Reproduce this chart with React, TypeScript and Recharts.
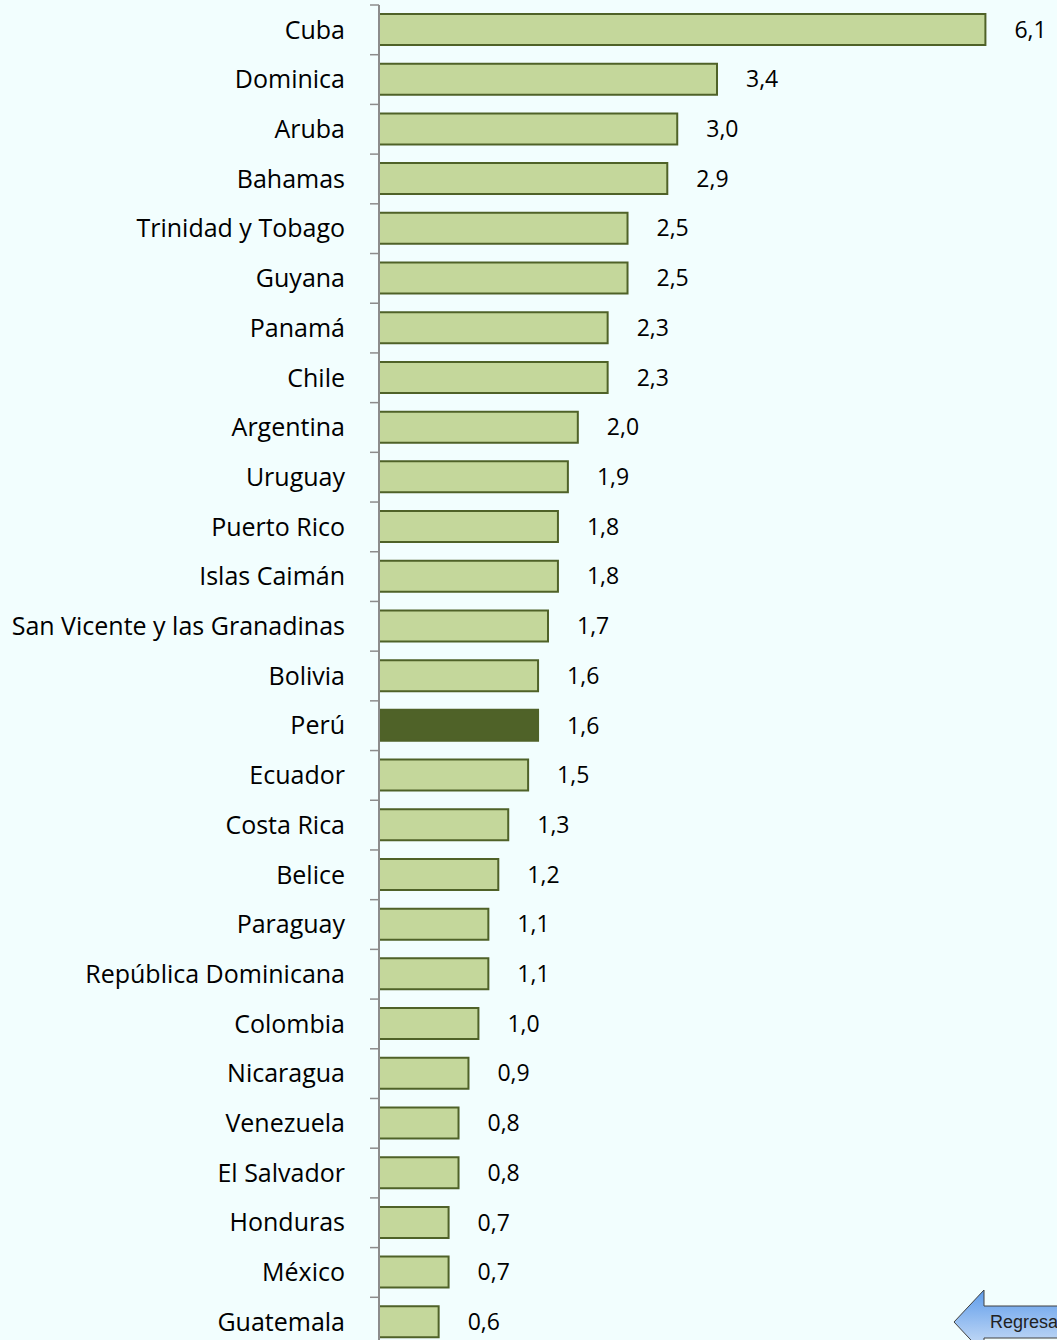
import React from "react";
import { BarChart, Bar, XAxis, YAxis, Cell, LabelList } from "recharts";

const countries = [
  "Cuba",
  "Dominica",
  "Aruba",
  "Bahamas",
  "Trinidad y Tobago",
  "Guyana",
  "Panamá",
  "Chile",
  "Argentina",
  "Uruguay",
  "Puerto Rico",
  "Islas Caimán",
  "San Vicente y las Granadinas",
  "Bolivia",
  "Perú",
  "Ecuador",
  "Costa Rica",
  "Belice",
  "Paraguay",
  "República Dominicana",
  "Colombia",
  "Nicaragua",
  "Venezuela",
  "El Salvador",
  "Honduras",
  "México",
  "Guatemala",
];

const values = [
  6.1, 3.4, 3.0, 2.9, 2.5, 2.5, 2.3, 2.3, 2.0, 1.9, 1.8, 1.8, 1.7, 1.6, 1.6,
  1.5, 1.3, 1.2, 1.1, 1.1, 1.0, 0.9, 0.8, 0.8, 0.7, 0.7, 0.6,
];

const highlight = "Perú";

const data = countries.map((name, i) => ({ name, value: values[i] }));

const FONT = "'Open Sans', sans-serif";
const BAND = 49.7;

const CountryTick = (props: any) => {
  const { x, y, payload } = props;
  return (
    <g>
      <line x1={x - 1} x2={x + 8} y1={y - BAND / 2} y2={y - BAND / 2} stroke="#8c8c8c" strokeWidth={1.5} />
      <text
        x={x - 26}
        y={y}
        dy="0.35em"
        textAnchor="end"
        fontFamily={FONT}
        fontSize={25}
        fill="#000"
      >
        {payload.value}
      </text>
    </g>
  );
};

const fmt = (v: any) => Number(v).toFixed(1).replace(".", ",");

export default function App() {
  return (
    <div
      style={{
        position: "absolute",
        left: 0,
        top: 0,
        width: 1057,
        height: 1340,
        overflow: "hidden",
        background: "#F2FEFE",
      }}
    >
      <BarChart
        width={1057}
        height={1350}
        data={data}
        layout="vertical"
        margin={{ top: 5, right: 2, bottom: 3, left: 0 }}
        barSize={31}
      >
        <XAxis type="number" domain={[0, 6.8]} hide />
        <YAxis
          type="category"
          dataKey="name"
          width={379}
          interval={0}
          axisLine={{ stroke: "#8c8c8c", strokeWidth: 2 }}
          tickLine={false}
          tick={<CountryTick />}
        />
        <Bar dataKey="value" isAnimationActive={false} stroke="#4F6228" strokeWidth={2}>
          {data.map((d) => (
            <Cell key={d.name} fill={d.name === highlight ? "#4F6228" : "#C4D79B"} />
          ))}
          <LabelList
            dataKey="value"
            position="right"
            offset={29}
            formatter={fmt}
            fontFamily={FONT}
            fontSize={23}
            fill="#000"
          />
        </Bar>
      </BarChart>
      <svg
        width={110}
        height={56}
        style={{ position: "absolute", left: 950, top: 1287 }}
      >
        <defs>
          <linearGradient id="btn" x1="0" y1="0" x2="0" y2="1">
            <stop offset="0" stopColor="#5E9CEB" />
            <stop offset="1" stopColor="#D3E3F7" />
          </linearGradient>
        </defs>
        <path
          d="M4 35 L34 3 L34 19 L120 19 L120 51 L34 51 L34 67 Z"
          fill="url(#btn)"
          stroke="#404040"
          strokeWidth={1}
        />
        <text x={40} y={41} fontFamily="'Liberation Sans', Arial, sans-serif" fontSize={18} fill="#222">
          Regresar
        </text>
      </svg>
    </div>
  );
}
